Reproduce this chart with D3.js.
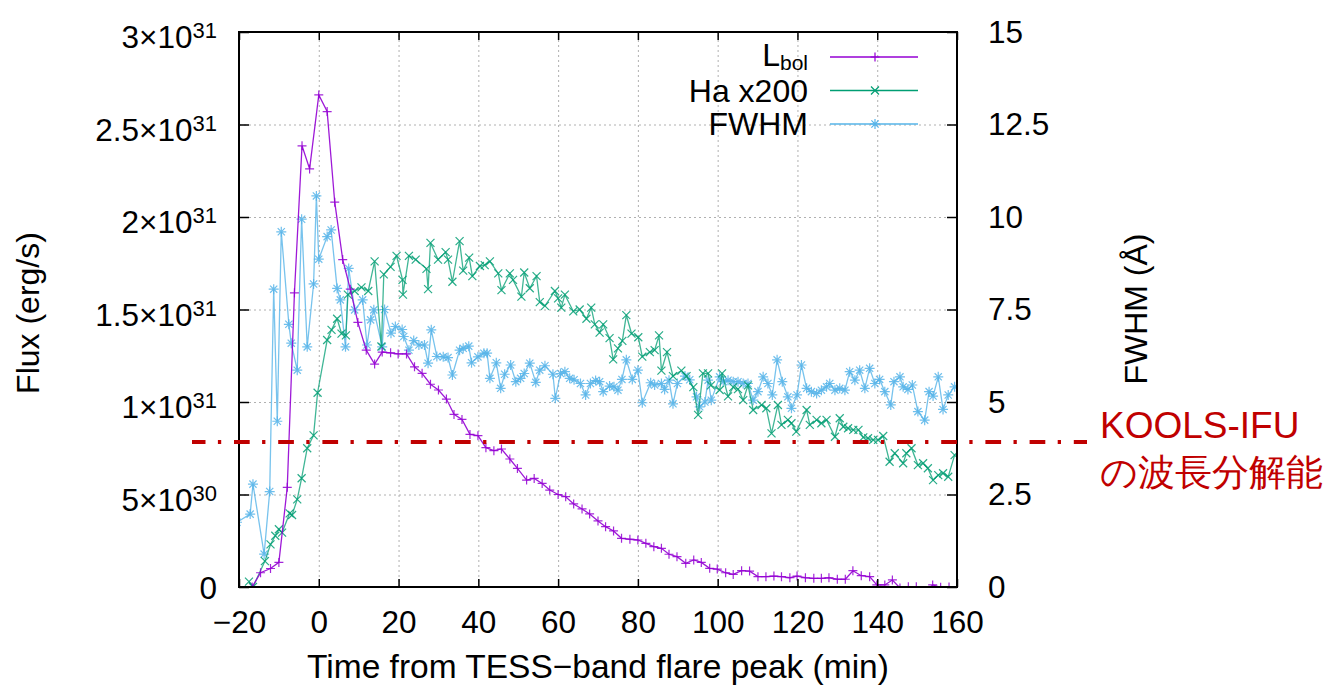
<!DOCTYPE html>
<meta charset="utf-8">
<script src="https://d3js.org/d3.v7.min.js"></script>
<style>
  body { margin: 0; background: #fff; }
  text { font-family: "Liberation Sans", Arial, Helvetica, sans-serif; fill: #000; }
</style>
<div id="flare"></div>
<script>

// ---- data (flux in units of 1e30 erg/s, FWHM in Angstrom, time in min) ----
var lbolTime = [-16.7,-14.6,-12.1,-10.0,-7.9,-6.1,-4.2,-2.3,0,2.1,4.0,6.0,7.9,9.8,11.9,14.0,15.9,18.0,19.9,22.0,24.0,25.9,28.0,30.0,32.0,33.9,35.9,37.9,39.9,41.9,43.9,45.8,47.9,49.8,52.1,54.0,56.0,57.9,60.0,61.9,63.9,66.0,67.9,70.0,71.9,73.9,75.9,78.0,80.0,82.0,84.0,85.9,87.8,89.8,92.0,94.0,95.9,98.0,99.9,102.0,103.9,106.0,108.0,110.1,112.1,114.1,116.0,118.1,119.9,122.0,124.1,126.0,127.9,130.0,132.0,133.9,136.0,138.1,139.9,141.9,143.8,145.7,147.8,149.8,151.9,153.9,155.9,158.0];
var lbolFlux = [0,0.77,1.0,1.33,5.39,15.9,23.85,22.6,26.6,25.7,20.8,17.7,16.1,14.3,12.8,12.05,12.7,12.66,12.6,12.6,11.9,11.55,10.96,10.65,10.16,9.33,9.06,8.25,8.18,7.53,7.37,7.46,6.92,6.41,5.78,5.87,5.6,5.24,5.0,4.88,4.49,4.22,3.95,3.57,3.26,3.03,2.63,2.58,2.54,2.36,2.18,2.09,1.77,1.64,1.28,1.46,1.33,1.01,0.97,0.77,0.68,0.88,0.86,0.56,0.56,0.59,0.56,0.5,0.59,0.5,0.47,0.47,0.5,0.42,0.42,0.88,0.61,0.56,0.11,0.11,0.38,-0.05,0.02,0.02,-0.3,0.11,-0.02,0.0];

var haTime = [-17.5,-16.5,-13.5,-12.1,-10.9,-10.0,-9.2,-7.3,-6.7,-5.4,-4.3,-2.9,-1.3,-0.3,2.1,3.2,4.6,5.7,6.8,7.3,9.0,10.7,12.4,14.0,15.7,16.3,18.0,19.5,21.0,21.1,22.6,24.3,27.0,27.4,28.0,29.9,31.8,32.4,33.5,35.3,36.2,37.7,38.5,40.4,41.6,42.9,45.0,45.8,47.9,48.7,50.8,51.5,52.9,54.6,55.4,56.7,59.2,60.0,60.8,61.7,63.8,65.4,67.1,68.3,69.2,70.4,71.3,72.9,73.8,75.0,76.1,77.1,78.4,80.1,81.1,83.0,84.2,85.3,85.9,87.3,88.8,90.9,92.2,93.9,95.1,96.3,97.6,98.3,100.5,101.1,102.6,103.9,105.1,106.4,107.6,108.9,111.0,112.2,113.5,115.1,116.0,117.6,118.5,119.7,122.3,123.1,124.8,126.0,127.3,129.4,130.6,131.5,132.7,134.0,135.3,136.5,137.7,139.0,140.2,141.5,143.1,144.4,146.5,147.3,148.6,150.2,151.5,152.7,154.0,155.3,156.5,157.8,159.4];
var haFlux = [0.29,0,1.4,2.3,2.77,3.12,2.94,3.98,3.89,4.74,5.88,7.5,8.2,10.5,13.35,13.9,14.5,13.7,13.6,15.8,16.0,16.2,16.0,17.6,13.0,16.9,17.3,17.9,16.6,15.8,17.9,17.7,17.2,16.1,18.6,17.7,18.1,17.7,16.5,18.7,17.1,17.8,16.8,17.35,17.4,17.6,16.95,16.05,16.95,16.6,15.7,17.0,16.15,16.8,15.4,15.2,16.0,15.6,15.1,15.8,14.9,15.0,14.5,15.1,14.2,13.75,14.2,13.45,12.3,12.9,13.3,14.7,13.7,13.5,12.45,12.7,12.8,13.6,11.7,12.7,11.4,11.7,11.4,10.8,9.3,11.55,11.55,10.9,10.65,11.55,10.3,10.8,10.7,10.1,10.9,9.57,9.84,9.66,8.3,9.84,8.76,9.03,8.85,8.4,9.57,8.76,9.03,8.85,9.03,8.12,9.12,8.66,8.58,8.49,8.49,8.09,8.04,7.95,7.95,8.16,6.77,7.23,6.69,7.23,7.5,6.59,6.69,6.42,5.78,6.05,6.15,5.96,7.13];

var fwhmTime = [-20.5,-17.2,-16.5,-13.7,-12.3,-11.3,-10.4,-9.4,-7.5,-6.9,-5.4,-4.3,-2.9,-1.3,-0.6,0.0,2.1,3.1,4.6,5.4,6.7,7.5,9.0,11.0,12.1,13.0,13.8,15.9,16.5,18.1,19.2,20.9,21.3,22.6,23.8,25.1,26.5,27.4,28.2,29.6,31.2,32.4,33.5,35.3,36.2,37.6,38.3,39.9,41.4,42.2,42.9,44.5,45.6,46.6,48.1,49.4,50.6,51.5,52.9,54.4,55.4,56.7,58.7,59.3,60.6,61.7,62.9,64.0,65.6,66.9,68.1,69.4,70.4,71.3,72.9,74.0,75.0,76.0,77.1,78.6,80.0,81.1,83.2,84.2,85.9,86.7,87.8,88.8,89.9,91.8,93.0,94.7,95.5,96.8,97.6,98.4,100.5,101.4,102.6,103.9,105.1,106.4,107.6,108.9,110.1,111.4,112.6,113.7,114.9,116.2,117.6,118.5,119.9,121.0,122.3,123.5,124.8,126.0,127.3,128.1,129.4,130.6,131.9,133.1,134.4,135.6,136.9,138.1,139.4,140.6,141.9,143.4,144.2,145.7,146.5,147.7,148.8,150.2,151.9,153.0,154.0,155.3,156.5,157.8,159.4];
var fwhmValue = [1.75,1.97,2.78,0.89,2.58,8.05,4.48,9.6,7.1,6.59,5.86,9.94,6.49,8.19,10.57,8.86,9.47,9.65,8.07,7.76,6.49,8.61,7.49,7.76,6.54,7.22,7.49,6.49,7.5,6.86,7.04,6.96,6.77,6.4,6.66,6.54,6.54,6.05,6.95,6.23,6.22,6.2,5.73,6.4,6.45,6.51,6.06,6.22,6.32,6.32,5.64,6.06,5.37,5.75,6.0,5.55,5.64,5.77,6.05,5.53,5.86,5.98,5.75,5.1,5.77,5.82,5.64,5.6,5.5,5.19,5.5,5.58,5.55,5.28,5.43,5.41,5.32,5.61,6.14,5.61,5.86,4.98,5.52,5.46,5.5,5.34,5.59,4.95,5.5,5.7,5.6,5.14,4.87,5.0,5.59,5.05,5.68,5.55,5.59,5.55,5.55,5.5,5.5,5.05,5.28,5.68,5.5,5.19,6.14,5.55,5.14,4.83,5.19,6.0,5.37,5.28,5.23,5.32,5.41,5.5,5.32,5.37,5.32,5.82,5.59,5.86,5.37,5.91,5.5,5.61,5.28,4.92,5.55,5.68,5.41,5.34,5.46,4.74,4.51,5.28,5.16,5.68,4.8,5.19,5.41];

var koolsRes = 3.92;   // KOOLS-IFU resolution (Angstrom)

var xTicks = [-20,0,20,40,60,80,100,120,140,160];
var xTickLabels = ["\u221220","0","20","40","60","80","100","120","140","160"];
var fluxTicks = [0,5,10,15,20,25,30];
var fluxMantissa = ["0","5","1","1.5","2","2.5","3"];
var fluxExponent = ["","30","31","31","31","31","31"];
var fwhmTicks = [0,2.5,5,7.5,10,12.5,15];
var fwhmTickLabels = ["0","2.5","5","7.5","10","12.5","15"];

// ---- layout ----
var W = 1326, H = 687;
var margin = {top: 32, right: 369, bottom: 100, left: 239},
    width = W - margin.left - margin.right,
    height = H - margin.top - margin.bottom;

var colLbol = "#9400d3", colHa = "#009e73", colFwhm = "#56b4e9", colRed = "#c00000";

var svg = d3.select("#flare")
  .append("svg")
    .attr("width", W)
    .attr("height", H);

svg.append("rect").attr("width", W).attr("height", H).attr("fill", "#fff");

var g = svg.append("g")
    .attr("transform", "translate(" + margin.left + "," + margin.top + ")");

var x = d3.scaleLinear().domain([-20, 160]).range([0, width]);
var yL = d3.scaleLinear().domain([0, 30]).range([height, 0]);
var yR = d3.scaleLinear().domain([0, 15]).range([height, 0]);

// grid
g.append("g")
    .attr("transform", "translate(0," + height + ")")
    .call(d3.axisBottom(x).tickValues(xTicks).tickSize(-height).tickFormat(""))
    .call(function(s) {
      s.select(".domain").remove();
      s.selectAll("line").attr("stroke", "#b0b0b0").attr("stroke-dasharray", "2,3");
    });
g.append("g")
    .call(d3.axisLeft(yL).tickValues(fluxTicks).tickSize(-width).tickFormat(""))
    .call(function(s) {
      s.select(".domain").remove();
      s.selectAll("line").attr("stroke", "#b0b0b0").attr("stroke-dasharray", "2,3");
    });

// data lines
g.append("clipPath").attr("id", "clip")
  .append("rect").attr("width", width).attr("height", height);

var plot = g.append("g").attr("clip-path", "url(#clip)");

var markerPlus = "M-4.5,0H4.5M0,-4.5V4.5";
var markerCross = "M-4,-4L4,4M-4,4L4,-4";
var markerStar = "M-5,0H5M0,-5V5M-3.6,-3.6L3.6,3.6M-3.6,3.6L3.6,-3.6";

function drawSeries(ts, vs, yScale, color, marker, lineOp) {
  var pts = ts.map(function(t, i) { return [t, vs[i]]; });
  var line = d3.line()
    .x(function(d) { return x(d[0]); })
    .y(function(d) { return yScale(d[1]); });
  plot.append("path")
      .datum(pts)
      .attr("fill", "none")
      .attr("stroke", color)
      .attr("stroke-opacity", lineOp)
      .attr("stroke-width", 1.3)
      .attr("d", line);
  plot.selectAll(null)
      .data(pts)
      .enter()
      .append("path")
        .attr("transform", function(d) { return "translate(" + x(d[0]) + "," + yScale(d[1]) + ")"; })
        .attr("d", marker)
        .attr("fill", "none")
        .attr("stroke", color)
        .attr("stroke-opacity", 0.85)
        .attr("stroke-width", 1.2);
}

drawSeries(fwhmTime, fwhmValue, yR, colFwhm, markerStar, 0.8);
drawSeries(haTime, haFlux, yL, colHa, markerCross, 0.75);
drawSeries(lbolTime, lbolFlux, yL, colLbol, markerPlus, 0.9);

// axes: ticks inward on all sides
var bottomAxis = g.append("g")
    .attr("transform", "translate(0," + height + ")")
    .call(d3.axisBottom(x).tickValues(xTicks).tickSizeInner(-8).tickSizeOuter(0).tickPadding(24)
      .tickFormat(function(d, i) { return xTickLabels[i]; }));
g.append("g")
    .call(d3.axisTop(x).tickValues(xTicks).tickSizeInner(-8).tickSizeOuter(0).tickFormat(""));

var leftAxis = g.append("g")
    .call(d3.axisLeft(yL).tickValues(fluxTicks).tickSizeInner(-10).tickSizeOuter(0).tickPadding(22));
leftAxis.selectAll(".tick text").each(function(d, i) {
  var t = d3.select(this).text("");
  if (fluxExponent[i] === "") {
    t.attr("dy", "0.36em").text(fluxMantissa[i]);
  } else {
    t.attr("dy", "0.5em");
    t.append("tspan").text(fluxMantissa[i] + "\u00d710");
    t.append("tspan").attr("dy", "-0.45em").attr("font-size", "22px").text(fluxExponent[i]);
  }
});

var rightAxis = g.append("g")
    .attr("transform", "translate(" + width + ",0)")
    .call(d3.axisRight(yR).tickValues(fwhmTicks).tickSizeInner(-10).tickSizeOuter(0).tickPadding(31)
      .tickFormat(function(d, i) { return fwhmTickLabels[i]; }));

[bottomAxis, leftAxis, rightAxis].forEach(function(a) {
  a.select(".domain").remove();
  a.selectAll(".tick text").attr("font-size", "31.5px").attr("font-family", "Liberation Sans, Arial, sans-serif");
});
g.selectAll(".tick line").filter(function() { return !d3.select(this).attr("stroke-dasharray"); })
  .attr("stroke", "#000").attr("stroke-width", 1.5);

// frame
g.append("rect")
    .attr("width", width)
    .attr("height", height)
    .attr("fill", "none")
    .attr("stroke", "#000")
    .attr("stroke-width", 2);

// axis titles
svg.append("text")
    .attr("x", 598)
    .attr("y", 678)
    .attr("text-anchor", "middle")
    .attr("font-size", "33.5px")
    .text("Time from TESS\u2212band flare peak (min)");

svg.append("text")
    .attr("transform", "translate(39,313) rotate(-90)")
    .attr("text-anchor", "middle")
    .attr("font-size", "32px")
    .text("Flux (erg/s)");

svg.append("text")
    .attr("transform", "translate(1147,309) rotate(-90)")
    .attr("text-anchor", "middle")
    .attr("font-size", "32px")
    .text("FWHM (\u00c5)");

// legend
var legendItems = [
  {name: "L", sub: "bol", color: colLbol, marker: markerPlus},
  {name: "Ha x200", sub: "", color: colHa, marker: markerCross},
  {name: "FWHM", sub: "", color: colFwhm, marker: markerStar}
];
var legend = svg.append("g");
legendItems.forEach(function(d, i) {
  var ly = 57 + i * 33.5;
  var t = legend.append("text")
      .attr("x", 808)
      .attr("y", ly + (i === 0 ? 9 : 11))
      .attr("text-anchor", "end")
      .attr("font-size", "32px");
  t.append("tspan").text(d.name);
  if (d.sub) t.append("tspan").attr("dy", "0.18em").attr("font-size", "21px").text(d.sub);
  legend.append("line")
      .attr("x1", 830).attr("x2", 918)
      .attr("y1", ly).attr("y2", ly)
      .attr("stroke", d.color).attr("stroke-width", 1.3);
  legend.append("path")
      .attr("transform", "translate(875," + ly + ")")
      .attr("d", d.marker)
      .attr("fill", "none")
      .attr("stroke", d.color)
      .attr("stroke-width", 1.2);
});

// KOOLS-IFU resolution line and note
var ry = margin.top + yR(koolsRes);
svg.append("line")
    .attr("x1", margin.left - 47).attr("x2", margin.left + width + 130)
    .attr("y1", ry).attr("y2", ry)
    .attr("stroke", colRed)
    .attr("stroke-width", 4)
    .attr("stroke-dasharray", "15.7,12.4,3.3,12.8")
    .attr("stroke-dashoffset", 2.2);

var note = svg.append("text")
    .attr("x", 1100)
    .attr("font-family", "'Noto Sans CJK JP', sans-serif")
    .attr("font-size", "37px")
    .style("fill", colRed);
note.append("tspan").attr("x", 1100).attr("y", 438).text("KOOLS-IFU");
note.append("tspan").attr("x", 1100).attr("y", 485).text("\u306e\u6ce2\u9577\u5206\u89e3\u80fd");

</script>
